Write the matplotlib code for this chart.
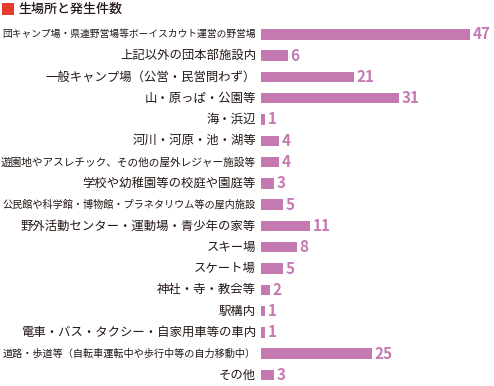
import matplotlib
matplotlib.use("Agg")
import matplotlib.pyplot as plt
from matplotlib.patches import Rectangle

plt.rcParams['font.family'] = ['Noto Sans CJK JP', 'DejaVu Sans']

categories = [
    "団キャンプ場・県連野営場等ボーイスカウト運営の野営場",
    "上記以外の団本部施設内",
    "一般キャンプ場（公営・民営問わず）",
    "山・原っぱ・公園等",
    "海・浜辺",
    "河川・河原・池・湖等",
    "遊園地やアスレチック、その他の屋外レジャー施設等",
    "学校や幼稚園等の校庭や園庭等",
    "公民館や科学館・博物館・プラネタリウム等の屋内施設",
    "野外活動センター・運動場・青少年の家等",
    "スキー場",
    "スケート場",
    "神社・寺・教会等",
    "駅構内",
    "電車・バス・タクシー・自家用車等の車内",
    "道路・歩道等（自転車運転中や歩行中等の自力移動中）",
    "その他",
]
values = [47, 6, 21, 31, 1, 4, 4, 3, 5, 11, 8, 5, 2, 1, 1, 25, 3]
title = "生場所と発生件数"

W, H = 494, 386
fig = plt.figure(figsize=(W / 100, H / 100), dpi=100)

ax_left = 261
ppu = 4.45
ax_w = W - ax_left
top = 23.66
bottom = 385.6
ax = fig.add_axes([ax_left / W, 1 - bottom / H, ax_w / W, (bottom - top) / H])
bar_color = "#C47AB1"
ypos = list(range(len(categories)))
ax.barh(ypos, values, height=0.49, color=bar_color, linewidth=0)
ax.set_xlim(0, ax_w / ppu)
ax.set_ylim(len(categories) - 0.5, -0.5)
ax.axis('off')

for y, v in zip(ypos, values):
    ax.annotate(str(v), xy=(v, y), xytext=(2.5, 0), textcoords='offset pixels',
                ha='left', va='center', fontsize=11, fontweight='bold',
                color=bar_color)

# category labels
label_texts = []
for y, c in zip(ypos, categories):
    t = ax.annotate(c, xy=(0, y), xytext=(-5, 0), textcoords='offset pixels',
                    ha='right', va='center', fontsize=8.9, color="#231815")
    label_texts.append(t)

fig.canvas.draw()
renderer = fig.canvas.get_renderer()
max_w = ax_left - 5 - 1
for t in label_texts:
    fs = t.get_fontsize()
    while t.get_window_extent(renderer).width > max_w and fs > 5:
        fs -= 0.1
        t.set_fontsize(fs)

# title with red square
fig.patches.append(Rectangle((2 / W, 1 - 15 / H), 12 / W, 12 / H,
                             transform=fig.transFigure, color="#E53A2C", linewidth=0))
fig.text(18 / W, 1 - 9 / H, title, ha='left', va='center', fontsize=9.4,
         fontweight='medium', color="#231815")

fig.savefig("out.png", dpi=100)
